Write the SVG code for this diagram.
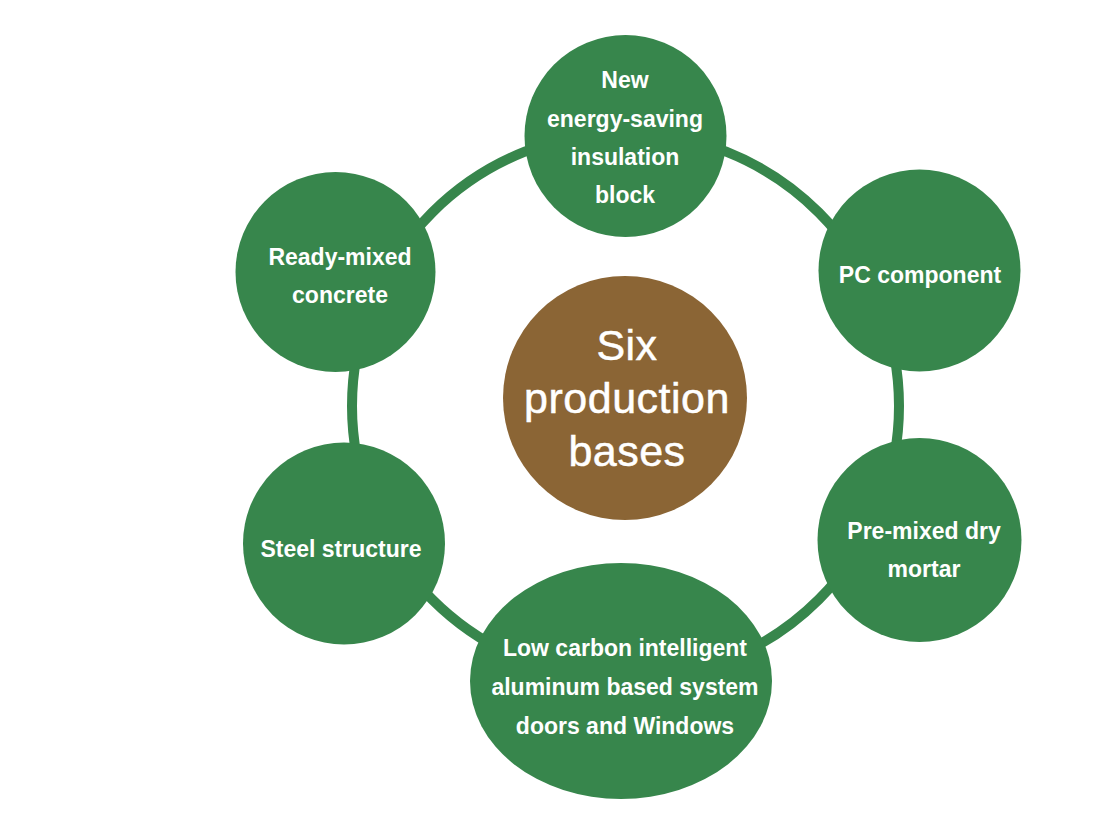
<svg xmlns="http://www.w3.org/2000/svg" width="1103" height="834" viewBox="0 0 1103 834">
<style>
.node{fill:#37864c}
.hub{fill:#8b6535}
.lbl{font-family:"Liberation Sans",Arial,sans-serif;font-weight:bold;font-size:23px;fill:#ffffff;text-anchor:middle}
.hubl{font-family:"Liberation Sans",Arial,sans-serif;font-size:43px;fill:#ffffff;stroke:#ffffff;stroke-width:0.5;letter-spacing:0.5px;text-anchor:middle}
.ring{fill:none;stroke:#37864c;stroke-width:10}
</style>
<rect width="1103" height="834" fill="#ffffff"/>
<g id="connectors">
<circle class="ring" cx="625.5" cy="406" r="273.5"/>
</g>
<g id="hub">
<circle class="hub" cx="625" cy="398" r="122"/>
<text class="hubl" x="627" y="360">Six</text>
<text class="hubl" x="627" y="413">production</text>
<text class="hubl" x="627" y="466">bases</text>
</g>
<g id="node-insulation">
<circle class="node" cx="625.5" cy="136" r="101"/>
<text class="lbl" x="625" y="88">New</text>
<text class="lbl" x="625" y="127">energy-saving</text>
<text class="lbl" x="625" y="165">insulation</text>
<text class="lbl" x="625" y="203">block</text>
</g>
<g id="node-pc">
<circle class="node" cx="919.5" cy="270.5" r="101"/>
<text class="lbl" x="920" y="283">PC component</text>
</g>
<g id="node-mortar">
<circle class="node" cx="919.5" cy="540" r="102"/>
<text class="lbl" x="924" y="539">Pre-mixed dry</text>
<text class="lbl" x="924" y="577">mortar</text>
</g>
<g id="node-windows">
<ellipse class="node" cx="621" cy="681" rx="151" ry="118"/>
<text class="lbl" x="625" y="656">Low carbon intelligent</text>
<text class="lbl" x="625" y="695">aluminum based system</text>
<text class="lbl" x="625" y="734">doors and Windows</text>
</g>
<g id="node-steel">
<circle class="node" cx="344" cy="543.5" r="101"/>
<text class="lbl" x="341" y="557">Steel structure</text>
</g>
<g id="node-concrete">
<circle class="node" cx="335.5" cy="272" r="100"/>
<text class="lbl" x="340" y="265">Ready-mixed</text>
<text class="lbl" x="340" y="303">concrete</text>
</g>
</svg>
